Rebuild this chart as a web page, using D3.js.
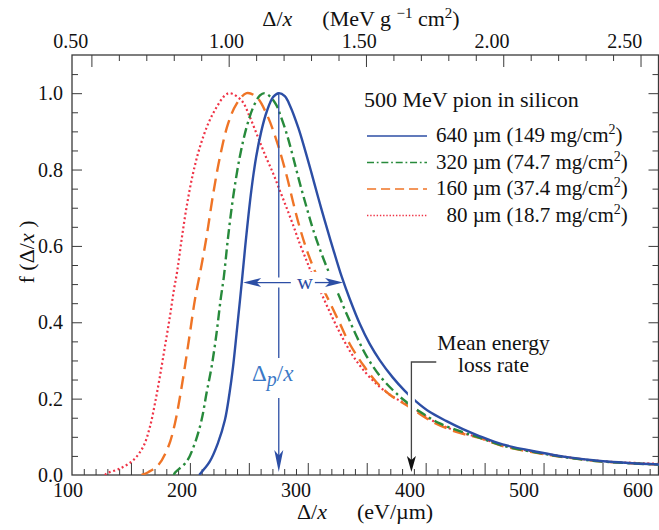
<!DOCTYPE html>
<html>
<head>
<meta charset="utf-8">
<script src="https://cdn.jsdelivr.net/npm/d3@7"></script>
<style>
  body { margin: 0; background: #fff; }
  text { font-family: "Liberation Serif", "Times New Roman", serif; fill: #111; }
</style>
</head>
<body>
<svg id="chart" width="659" height="530" font-family="Liberation Serif, serif"></svg>
<script>
// --- data: [Δ/x in eV/µm, f(Δ/x)] ---
const curve640 = [[207.9,0],[211.9,0.015],[216.8,0.035],[223.7,0.083],[229.7,0.144],[233.6,0.214],[236.6,0.283],
  [239.6,0.371],[242.5,0.458],[244.5,0.52],[247.8,0.625],[252.1,0.745],[256.2,0.833],[260.7,0.902],[265,0.950],
  [270.6,0.990],[275.4,1.0],[280.5,0.992],[285.1,0.966],[292,0.909],[297.5,0.853],[302.9,0.794],[308.9,0.726],
  [314.2,0.668],[321.2,0.595],[328.7,0.520],[335.6,0.461],[344.1,0.396],[352.4,0.344],[361,0.301],[372.2,0.255],
  [382.1,0.221],[392,0.192],[402.9,0.166],[417.7,0.141],[431.6,0.120],[445.5,0.102],[465.2,0.080],[494,0.061],
  [521.7,0.046],[550.4,0.036],[600,0.027]];
const curve320 = [[186.4,0],[187.3,0.006],[197.2,0.035],[204.2,0.083],[209.9,0.144],[214.1,0.214],[218.4,0.283],
  [222.6,0.371],[226,0.458],[228.8,0.519],[232.4,0.623],[236.7,0.728],[242.3,0.833],[248.1,0.911],[253.7,0.963],
  [259.4,0.994],[263.5,1.0],[268.5,0.99],[273.5,0.968],[276.3,0.946],[282,0.895],[287.5,0.833],[293.2,0.765],
  [298.9,0.702],[304.5,0.643],[311.6,0.580],[318.7,0.525],[325.7,0.475],[332.8,0.423],[341.3,0.364],[349.7,0.312],
  [361,0.260],[372.3,0.222],[382,0.195],[394.9,0.166],[412,0.135],[431.6,0.112],[445.5,0.098],[465.2,0.077],
  [494,0.059],[521.7,0.045],[550.4,0.035],[600,0.027]];
const curve160 = [[159,0],[165,0.008],[173.2,0.026],[181.7,0.074],[187.3,0.135],[191.6,0.205],[195.7,0.283],
  [200,0.371],[204.2,0.458],[209.9,0.55],[214.1,0.623],[219.8,0.737],[225.5,0.833],[232.4,0.920],[239.6,0.972],
  [248.1,1.0],[256.5,0.990],[265,0.946],[273.5,0.876],[282,0.785],[287.5,0.715],[293.2,0.648],[300.2,0.580],
  [308.7,0.515],[318.7,0.452],[327.2,0.397],[335.6,0.343],[347,0.288],[358.3,0.243],[369.6,0.210],[382.1,0.186],
  [392,0.166],[406,0.139],[425.9,0.113],[445.5,0.097],[465.2,0.076],[494,0.058],[521.7,0.045],[550.4,0.035],[600,0.027]];
const curve80 = [[128,0],[129.4,0.004],[140.7,0.017],[152,0.039],[160.4,0.074],[166.1,0.126],[170.4,0.188],
  [174.5,0.257],[178.8,0.336],[183,0.414],[186.4,0.484],[189.3,0.535],[192.9,0.615],[197.2,0.702],[202.6,0.789],
  [208.5,0.859],[215.5,0.920],[222.6,0.963],[229.7,0.994],[233.9,1.0],[243.8,0.981],[250.9,0.937],[257.7,0.885],
  [264.9,0.83],[270.6,0.79],[276.3,0.745],[282,0.70],[287.5,0.655],[293.2,0.606],[298.9,0.562],[303.1,0.53],
  [311.6,0.475],[320,0.418],[328.5,0.365],[338.3,0.312],[349.7,0.266],[361,0.231],[372.2,0.205],[382,0.188],
  [392,0.170],[406,0.142],[425.9,0.115],[445.5,0.098],[465.2,0.078],[494,0.060],[521.7,0.046],[550.4,0.036],[600,0.029]];

const legendThick = ["640", "320", "160", "80"];
const legendMass  = ["149", "74.7", "37.4", "18.7"];
const bottomTicks = [100, 200, 300, 400, 500, 600];
const topTicks    = ["0.50", "1.00", "1.50", "2.00", "2.50"];
const leftTicks   = [0, 0.2, 0.4, 0.6, 0.8, 1.0];

const peakDelta = 275.4;   // Δp/x of the 640 µm curve
const meanRate  = 387.9;   // mean energy loss rate
const halfLo = 245.2, halfHi = 329.9, halfLevel = 0.504;
const evPerMeV = 232.9;    // eV/µm per MeV g^-1 cm^2 in silicon

// --- scales ---
const x = d3.scaleLinear().domain([100, 597.5]).range([72, 658.5]);
const y = d3.scaleLinear().domain([0, 1.1]).range([475, 55]);
const xTop = d3.scaleLinear().domain(x.domain().map(v => v / evPerMeV)).range(x.range());
const labelX = d3.scaleLinear().domain([100, 600]).range([68, 638]);

const svg = d3.select("#chart");
const ink = "#3a3a3a";

// clip for curves
svg.append("defs").append("clipPath").attr("id", "plot")
  .append("rect").attr("x", 72).attr("y", 55).attr("width", 587).attr("height", 420);

// --- ticks (all inward) ---
const tickAxis = (axis, tr) => {
  const g = svg.append("g").attr("transform", tr).call(axis);
  g.select(".domain").remove();
  g.selectAll("line").attr("stroke", ink).attr("stroke-width", 1);
  return g;
};
const bMinor = d3.range(110, 598, 10).filter(v => v % 50 !== 0);
const bMajor = d3.range(150, 598, 50);
tickAxis(d3.axisBottom(x).tickValues(bMinor).tickSize(-6).tickFormat(""), "translate(0,475)");
tickAxis(d3.axisBottom(x).tickValues(bMajor).tickSize(-12).tickFormat(""), "translate(0,475)");

const tAll = d3.range(5, 26, 1).map(v => v / 10);
tickAxis(d3.axisTop(xTop).tickValues(tAll.filter(v => Math.round(v * 10) % 5 !== 0)).tickSize(-6).tickFormat(""), "translate(0,55)");
tickAxis(d3.axisTop(xTop).tickValues(tAll.filter(v => Math.round(v * 10) % 5 === 0)).tickSize(-12).tickFormat(""), "translate(0,55)");

const yAll = d3.range(1, 22).map(v => v * 0.05);
const yMin = yAll.filter(v => Math.round(v * 100) % 20 !== 0);
const yMaj = yAll.filter(v => Math.round(v * 100) % 20 === 0 && v < 1.09);
tickAxis(d3.axisLeft(y).tickValues(yMin).tickSize(-6).tickFormat(""), "translate(72,0)");
tickAxis(d3.axisLeft(y).tickValues(yMaj).tickSize(-10).tickFormat(""), "translate(72,0)");
tickAxis(d3.axisRight(y).tickValues(yMin).tickSize(-6).tickFormat(""), "translate(658.5,0)");
tickAxis(d3.axisRight(y).tickValues(yMaj).tickSize(-10).tickFormat(""), "translate(658.5,0)");

// frame
svg.append("rect").attr("x", 72).attr("y", 55).attr("width", 586.5).attr("height", 420)
  .attr("fill", "none").attr("stroke", ink).attr("stroke-width", 1.3);

// --- tick labels ---
svg.append("g").selectAll("text").data(bottomTicks).join("text")
  .attr("x", d => labelX(d)).attr("y", 497).attr("text-anchor", "middle")
  .attr("font-size", 20).text(d => d);
// the first top label sits further left in the original
svg.append("g").selectAll("text").data(topTicks).join("text")
  .attr("x", (d, i) => labelX(+d * evPerMeV) + 7 - (i === 0 ? 23 : 0)).attr("y", 48).attr("text-anchor", "middle")
  .attr("font-size", 20).text(d => d);
svg.append("g").selectAll("text").data(leftTicks).join("text")
  .attr("x", 63).attr("y", d => y(d) + 7).attr("text-anchor", "end")
  .attr("font-size", 20).text(d => d.toFixed(1));

// --- axis titles ---
const bt = svg.append("text").attr("x", 365).attr("y", 519).attr("text-anchor", "middle").attr("font-size", 22);
bt.append("tspan").text("Δ/");
bt.append("tspan").attr("font-style", "italic").text("x");
bt.append("tspan").attr("dx", 30).text("(eV/µm)");

const tt = svg.append("text").attr("x", 361).attr("y", 26).attr("text-anchor", "middle").attr("font-size", 22);
tt.append("tspan").text("Δ/");
tt.append("tspan").attr("font-style", "italic").text("x");
tt.append("tspan").attr("dx", 30).text("(MeV g ");
tt.append("tspan").attr("font-size", 15).attr("dy", -8).text("−1");
tt.append("tspan").attr("dy", 8).text(" cm");
tt.append("tspan").attr("font-size", 15).attr("dy", -8).text("2");
tt.append("tspan").attr("dy", 8).text(")");

const yl = svg.append("text").attr("transform", "translate(34,252) rotate(-90)")
  .attr("text-anchor", "middle").attr("font-size", 22);
yl.append("tspan").text("f (Δ/");
yl.append("tspan").attr("font-style", "italic").text("x");
yl.append("tspan").text(" )");

// --- curves ---
const line = d3.line().x(d => x(d[0])).y(d => y(d[1])).curve(d3.curveCatmullRom.alpha(0.5));
const series = [
  { data: curve80,  color: "#ef3346", dash: "2,2.6", width: 2.2 },
  { data: curve160, color: "#ef7426", dash: "13,7", width: 2.4 },
  { data: curve320, color: "#278a3b", dash: "10,4,2.5,4", width: 2.4 },
  { data: curve640, color: "#2c4ea5", dash: null, width: 2.4 }
];
const plot = svg.append("g").attr("clip-path", "url(#plot)");
series.forEach((s, i) => {
  if (i === 3) {
    // white gap where the width arrow crosses the thinner-sample curves
    plot.append("rect")
      .attr("x", x(halfLo + 8)).attr("width", x(halfHi - 4) - x(halfLo + 8))
      .attr("y", y(halfLevel + 0.028)).attr("height", y(halfLevel - 0.028) - y(halfLevel + 0.028))
      .attr("fill", "#fff");
  }
  plot.append("path").datum(s.data)
    .attr("d", line).attr("fill", "none")
    .attr("stroke", s.color).attr("stroke-width", s.width)
    .attr("stroke-dasharray", s.dash);
});

// --- annotations ---
const blue = "#2c4ea5";
const arrowHead = (tipX, tipY, dir, len, half, color) => {
  // dir: angle in radians the arrow points to
  const c = Math.cos(dir), s = Math.sin(dir);
  const bx = tipX - c * len, by = tipY - s * len;
  const mx = tipX - c * len * 0.75, my = tipY - s * len * 0.75;
  svg.append("path")
    .attr("d", `M${tipX},${tipY}L${bx - s * half},${by + c * half}L${mx},${my}L${bx + s * half},${by - c * half}Z`)
    .attr("fill", color);
};

// width arrow
const wy = y(halfLevel);
const wMid = x(295.8);
svg.append("line").attr("x1", x(halfLo) + 10).attr("x2", wMid - 12).attr("y1", wy).attr("y2", wy)
  .attr("stroke", blue).attr("stroke-width", 1.3);
svg.append("line").attr("x1", wMid + 12).attr("x2", x(halfHi) - 10).attr("y1", wy).attr("y2", wy)
  .attr("stroke", blue).attr("stroke-width", 1.3);
arrowHead(x(halfLo), wy, Math.PI, 18, 4.5, blue);
arrowHead(x(halfHi), wy, 0, 18, 4.5, blue);
svg.append("text").attr("x", wMid + 2).attr("y", wy + 6).attr("text-anchor", "middle")
  .attr("font-size", 22).style("fill", blue).text("w");

// Δp/x marker
const px = x(peakDelta);
const vSegs = [[y(1.0), wy - 5], [wy + 5, 358], [398, y(0.008) - 16]];
vSegs.forEach(sg => svg.append("line").attr("x1", px).attr("x2", px).attr("y1", sg[0]).attr("y2", sg[1])
  .attr("stroke", blue).attr("stroke-width", 1.3));
arrowHead(px, y(0.008), Math.PI / 2, 22, 4.5, blue);
const dl = svg.append("text").attr("x", x(270.3)).attr("y", 381).attr("text-anchor", "middle")
  .attr("font-size", 23).style("fill", "#3b78c6");
dl.append("tspan").text("Δ");
dl.append("tspan").attr("font-style", "italic").attr("font-size", 20).attr("dy", 5).text("p");
dl.append("tspan").attr("dy", -5).text("/");
dl.append("tspan").attr("font-style", "italic").text("x");

// mean energy loss rate
const mx = x(meanRate), mTop = y(0.296);
svg.append("path").attr("d", `M${x(409)},${mTop}H${mx}V${y(0.008) - 12}`)
  .attr("fill", "none").attr("stroke", "#fff").attr("stroke-width", 7);
svg.append("path").attr("d", `M${x(409)},${mTop}H${mx}V${y(0.008) - 12}`)
  .attr("fill", "none").attr("stroke", "#444").attr("stroke-width", 1.3);
arrowHead(mx, y(0.008), Math.PI / 2, 16, 4.5, "#111");
svg.append("text").attr("x", x(457.6)).attr("y", 350).attr("text-anchor", "middle")
  .attr("font-size", 21.5).text("Mean energy");
svg.append("text").attr("x", x(457.6)).attr("y", 372).attr("text-anchor", "middle")
  .attr("font-size", 21.5).text("loss rate");

// --- legend ---
svg.append("text").attr("x", 364).attr("y", 107).attr("font-size", 22).text("500 MeV pion in silicon");
const lg = svg.append("g").selectAll("g").data(series.slice().reverse()).join("g")
  .attr("transform", (d, i) => `translate(0,${142 + i * 26.5})`);
lg.append("line").attr("x1", 367).attr("x2", 427).attr("y1", -6).attr("y2", -6)
  .attr("stroke", d => d.color).attr("stroke-width", 1.3)
  .attr("stroke-dasharray", d => d.dash ? d.dash.split(",").map(v => v * 0.7).join(",") : null);
const lt = lg.append("text").attr("x", (d, i) => 436 + (legendThick[i].length < 3 ? 10.5 : 0))
  .attr("font-size", 21);
lt.append("tspan").text((d, i) => `${legendThick[i]} µm (${legendMass[i]} mg/cm`);
lt.append("tspan").attr("font-size", 14).attr("dy", -8).text("2");
lt.append("tspan").attr("dy", 8).text(")");
</script>
</body>
</html>
